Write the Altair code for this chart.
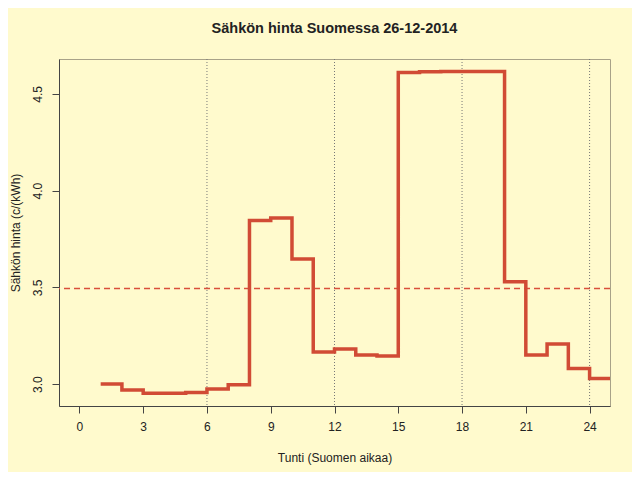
import altair as alt
import pandas as pd

# Data
hours = list(range(1, 26))
price = [3.000, 2.969, 2.953, 2.953, 2.957, 2.974, 2.996, 3.845, 3.859, 3.647,
         3.166, 3.181, 3.150, 3.145, 4.610, 4.614, 4.616, 4.616, 4.616, 3.529,
         3.150, 3.207, 3.081, 3.029, 3.029]
grid_hours = [6, 12, 18, 24]
x_ticks = [0, 3, 6, 9, 12, 15, 18, 21, 24]
y_ticks = [3.0, 3.5, 4.0, 4.5]

df = pd.DataFrame({"hour": hours, "price": price})
mean_df = pd.DataFrame({"hour": hours[:24], "price": price[:24]})
grid_df = pd.DataFrame({"hour": grid_hours})

BG = "#FFFACD"
FONT = "Liberation Sans"

xscale = alt.Scale(domain=[-0.96, 24.96], nice=False, zero=False)
yscale = alt.Scale(domain=[2.8866, 4.6804], nice=False, zero=False)

xaxis = alt.Axis(values=x_ticks, title="Tunti (Suomen aikaa)", grid=False,
                 tickSize=7, tickColor="#444", domainColor="#444",
                 labelFontSize=12, labelColor="#222", labelPadding=8,
                 titleFontSize=12, titleFontWeight="normal", titleColor="#222",
                 titlePadding=20, labelFont=FONT, titleFont=FONT)
yaxis = alt.Axis(values=y_ticks, title="Sähkön hinta (c/(kWh)", grid=False,
                 format=".1f", tickSize=7, tickColor="#444", domainColor="#444",
                 labelAngle=270, labelAlign="center", labelBaseline="bottom",
                 labelFontSize=12, labelColor="#222", labelPadding=8,
                 titleFontSize=12, titleFontWeight="normal", titleColor="#222",
                 titlePadding=9, labelFont=FONT, titleFont=FONT)

grid = alt.Chart(grid_df).mark_rule(color="#777", strokeDash=[1, 2], strokeWidth=1).encode(
    x=alt.X("hour:Q", scale=xscale, axis=xaxis)
)

mean_rule = alt.Chart(mean_df).mark_rule(color="#D9503C", strokeDash=[6, 4], strokeWidth=1.5).encode(
    y=alt.Y("mean(price):Q", scale=yscale, axis=yaxis)
)

line = alt.Chart(df).mark_line(color="#D14B35", strokeWidth=3.5, interpolate="step-after",
                               clip=True, strokeJoin="miter").encode(
    x=alt.X("hour:Q", scale=xscale, axis=xaxis),
    y=alt.Y("price:Q", scale=yscale, axis=yaxis),
)

chart = alt.layer(grid, mean_rule, line).properties(
    width=551, height=347,
    background=BG,
    padding={"left": 51, "top": 51, "right": 22, "bottom": 66},
    autosize=alt.AutoSizeParams(type="none"),
    title=alt.Title("Sähkön hinta Suomessa 26-12-2014", fontSize=14.5, fontWeight="bold",
                    font=FONT, color="#222", offset=22, anchor="middle"),
).configure_view(stroke="#A8A288", strokeWidth=1)

chart.save("out.html", embed_options={"renderer": "svg", "actions": False})
